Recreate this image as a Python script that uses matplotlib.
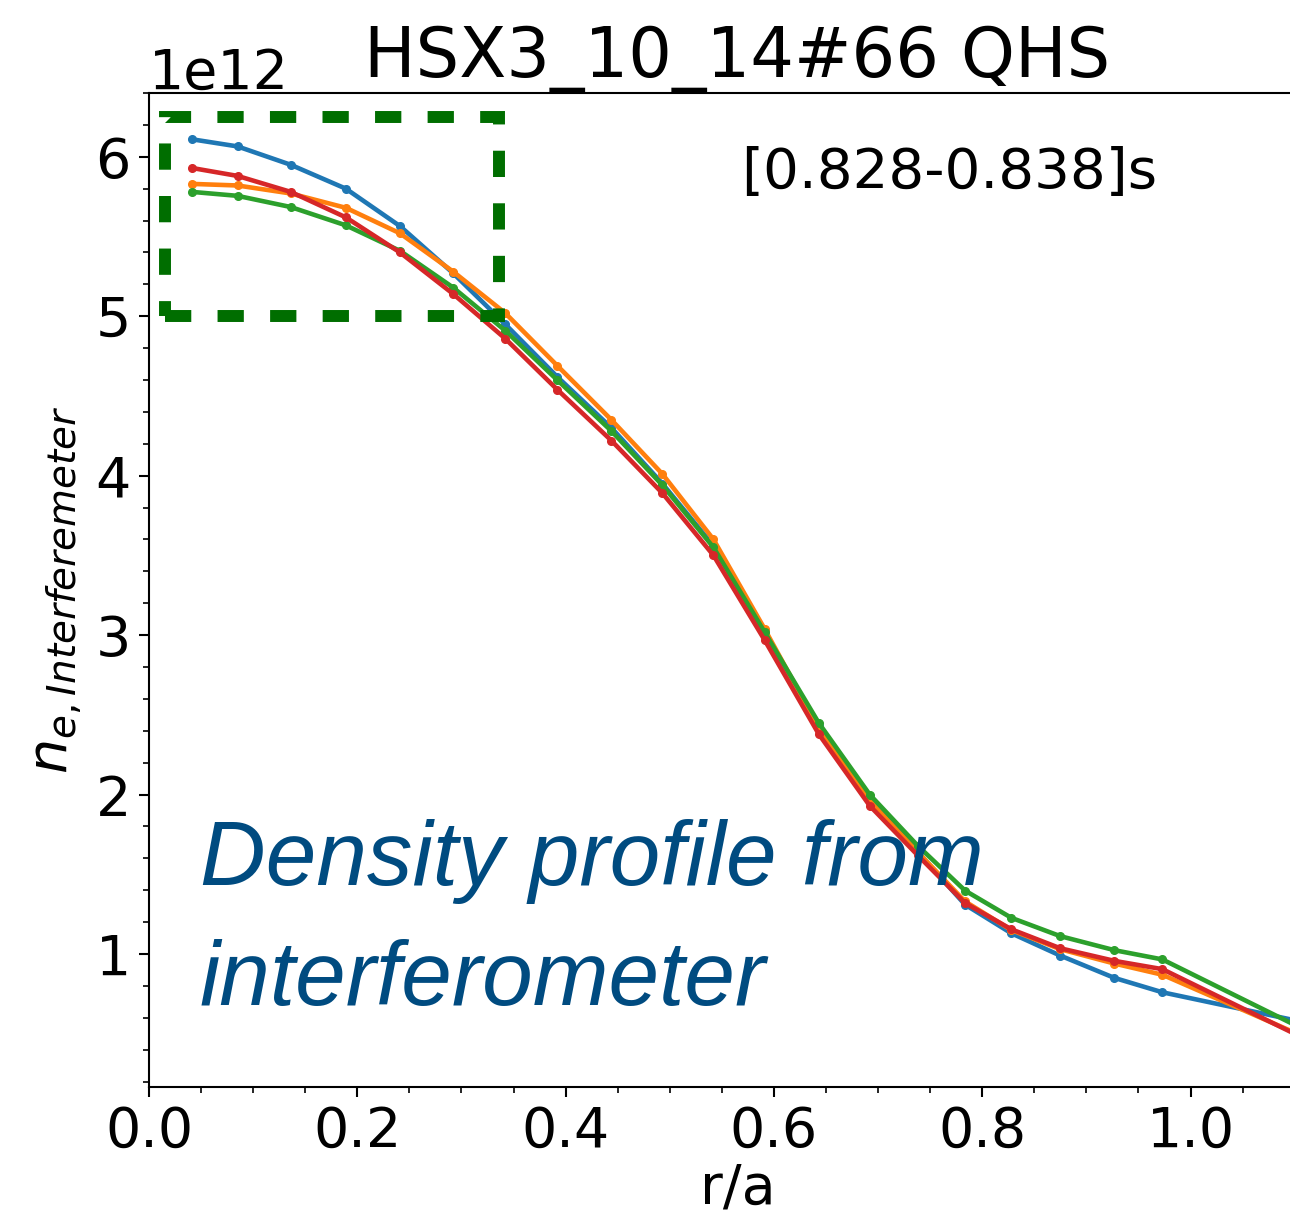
import matplotlib
matplotlib.use("Agg")
import matplotlib.pyplot as plt
import numpy as np
from matplotlib.patches import Rectangle
from matplotlib.ticker import MultipleLocator

# ---- data (density in units of 1e12) ----
r_a = [0.041, 0.085, 0.136, 0.189, 0.241, 0.292, 0.342, 0.392, 0.444, 0.493,
       0.542, 0.591, 0.643, 0.692, 0.738, 0.7835, 0.828, 0.875, 0.927, 0.973, 1.125]
ne_blue = [6.11, 6.065, 5.95, 5.80, 5.565, 5.27, 4.95, 4.62, 4.30, 3.95,
           3.56, 3.01, 2.43, 1.98, 1.64, 1.31, 1.13, 0.99, 0.85, 0.76, 0.55]
ne_orange = [5.83, 5.82, 5.77, 5.68, 5.52, 5.28, 5.02, 4.69, 4.35, 4.01,
             3.60, 3.04, 2.42, 1.96, 1.64, 1.33, 1.15, 1.03, 0.94, 0.87, 0.436]
ne_green = [5.78, 5.755, 5.685, 5.57, 5.41, 5.18, 4.91, 4.60, 4.28, 3.94,
            3.55, 3.02, 2.45, 2.00, 1.68, 1.398, 1.227, 1.112, 1.024, 0.966, 0.475]
ne_red = [5.93, 5.88, 5.78, 5.62, 5.40, 5.14, 4.86, 4.54, 4.22, 3.89,
          3.50, 2.97, 2.38, 1.93, 1.62, 1.32, 1.155, 1.036, 0.957, 0.905, 0.42]
series_colors = ["tab:blue", "tab:orange", "tab:green", "tab:red"]

title = "HSX3_10_14#66 QHS"
time_label = "[0.828-0.838]s"
xlabel = "r/a"
ylabel = r"$n_{e, Interferemeter}$"
note_lines = ["Density profile from", "interferometer"]

W, H = 1290, 1217
fig = plt.figure(figsize=(W / 100, H / 100), dpi=100)

x_left_px, x_scale = 149, 1041.5  # px per unit r/a
xmax = 1.13
ax_w = xmax * x_scale / W
ax = fig.add_axes([x_left_px / W, (H - 1087) / H, ax_w, (1087 - 93) / H])

scale = 1e12
for ys, c in zip([ne_blue, ne_orange, ne_green, ne_red], series_colors):
    ax.plot(r_a, np.array(ys) * scale, color=c, lw=3.3, marker="o", ms=5.5)

ax.set_xlim(0, xmax)
ax.set_ylim(0.166e12, 6.40e12)
ax.xaxis.set_major_locator(MultipleLocator(0.2))
ax.xaxis.set_minor_locator(MultipleLocator(0.05))
ax.yaxis.set_major_locator(MultipleLocator(1e12))
ax.yaxis.set_minor_locator(MultipleLocator(0.2e12))
ax.tick_params(which="major", length=7, width=1.5, labelsize=40, pad=6)
ax.tick_params(which="minor", length=4, width=1.2)
ax.yaxis.get_offset_text().set_fontsize(40)
for s in ax.spines.values():
    s.set_linewidth(1.5)

ax.set_title(title, fontsize=49.5, pad=2)
ax.set_xlabel(xlabel, fontsize=40, labelpad=2)
ax.set_ylabel(ylabel, fontsize=40, labelpad=8)

rect = Rectangle((0.015, 5.0e12), 0.321, 1.248e12, fill=False,
                 edgecolor="#006e00", lw=8.6, linestyle=(0, (2.2, 2.2)), zorder=5)
ax.add_patch(rect)

fig.text(949 / W, 1 - 173 / H, time_label, fontsize=40.5, ha="center", va="center")

fig.text(200 / W, 1 - 885 / H, note_lines[0], fontsize=65.5, style="italic",
         family="Liberation Sans", color="#004b80", va="baseline", ha="left")
fig.text(200 / W, 1 - 1005 / H, note_lines[1], fontsize=65.5, style="italic",
         family="Liberation Sans", color="#004b80", va="baseline", ha="left")

fig.savefig("out.png", dpi=100)
